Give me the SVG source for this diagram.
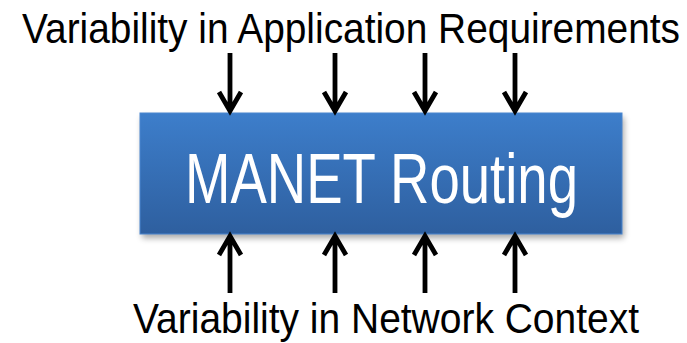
<svg xmlns="http://www.w3.org/2000/svg" width="687" height="343" viewBox="0 0 687 343">
<defs>
<linearGradient id="g" x1="0" y1="0" x2="0" y2="1">
<stop offset="0" stop-color="#3d7ecb"/>
<stop offset="1" stop-color="#2e5f9f"/>
</linearGradient>
<filter id="sh" x="-5%" y="-10%" width="110%" height="130%">
<feGaussianBlur stdDeviation="3"/>
</filter>
</defs>
<style>
.lbl{font-family:"Liberation Sans",Arial,sans-serif;fill:#000;font-size:36px}
.title{font-family:"Liberation Sans",Arial,sans-serif;fill:#fff;font-size:58px}
.arr{fill:none;stroke:#000;stroke-width:4.8;stroke-linejoin:miter}
</style>
<g id="top-label"><text class="lbl" transform="translate(22 43) scale(1 1.2)" x="0" y="0" textLength="658" lengthAdjust="spacingAndGlyphs">Variability in Application Requirements</text></g>
<g id="bottom-label"><text class="lbl" transform="translate(133 333) scale(1 1.2)" x="0" y="0" textLength="506" lengthAdjust="spacingAndGlyphs">Variability in Network Context</text></g>
<g id="manet-routing">
<rect x="142" y="117" width="482" height="121" fill="#000" opacity="0.35" filter="url(#sh)"/>
<rect x="140" y="113" width="482" height="121" fill="url(#g)" stroke="#4a86cf" stroke-width="1"/>
<text class="title" transform="translate(185 203) scale(1 1.2)" x="0" y="0" textLength="393" lengthAdjust="spacingAndGlyphs">MANET Routing</text>
</g>
<g id="connectors">
<path class="arr" d="M230 53V111M219 92L230 111L241 92"/>
<path class="arr" d="M335 53V111M324 92L335 111L346 92"/>
<path class="arr" d="M425 53V111M414 92L425 111L436 92"/>
<path class="arr" d="M515 53V111M504 92L515 111L526 92"/>
<path class="arr" d="M230 293V236M219 255L230 236L241 255"/>
<path class="arr" d="M335 293V236M324 255L335 236L346 255"/>
<path class="arr" d="M425 293V236M414 255L425 236L436 255"/>
<path class="arr" d="M515 293V236M504 255L515 236L526 255"/>
</g>
</svg>
